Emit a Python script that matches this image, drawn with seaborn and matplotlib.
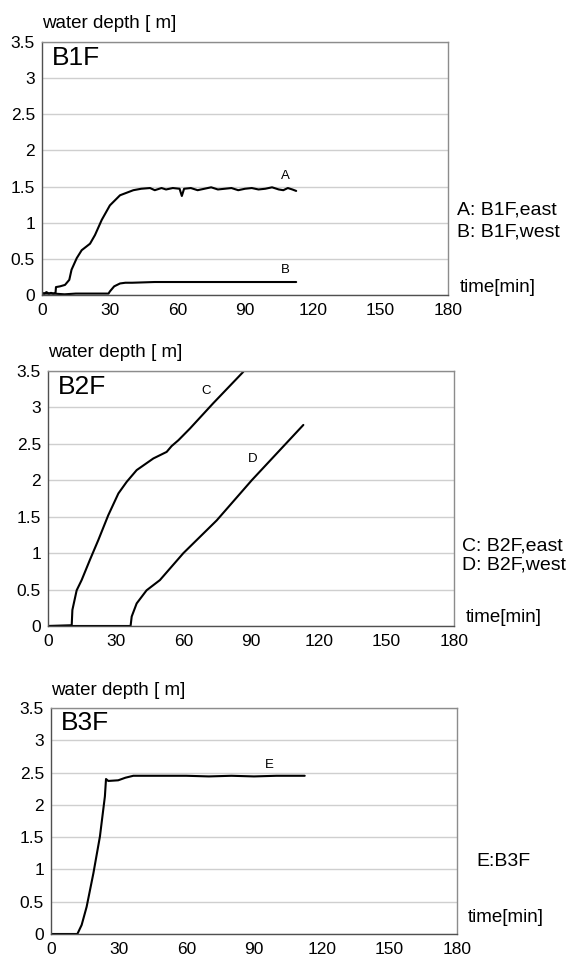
import numpy as np
import pandas as pd
import matplotlib
matplotlib.use("Agg")
import matplotlib.pyplot as plt
import seaborn as sns

# ---- data (time in min, depth in m) ----
a_time = [0, 1, 2, 3, 4, 5, 6.0, 6.2, 8, 10.2, 12.1, 13.1, 15.4, 17.6, 21.3, 23.5, 26.5,
          30.1, 34.6, 40.5, 44, 47.9, 50, 53, 55, 58, 61, 62, 63, 66, 69, 72,
          75, 78, 81, 84, 87, 90, 93, 96, 99, 102, 105, 107, 109, 111, 112.7]
a_depth = [0.03, 0.02, 0.04, 0.02, 0.03, 0.02, 0.03, 0.11, 0.12, 0.14, 0.21, 0.35, 0.51,
           0.62, 0.71, 0.83, 1.04, 1.24, 1.38, 1.45, 1.47, 1.48, 1.45, 1.48,
           1.46, 1.48, 1.47, 1.37, 1.47, 1.48, 1.45, 1.47, 1.49, 1.46, 1.47, 1.48,
           1.45, 1.47, 1.48, 1.46, 1.47, 1.49, 1.46, 1.45, 1.48, 1.46, 1.44]

b_time = [0, 5, 10, 15, 20, 25, 29.5, 30.1, 32, 34.6, 37, 40, 50, 60, 70, 80, 90, 100, 112.7]
b_depth = [0.02, 0.02, 0.01, 0.02, 0.02, 0.02, 0.02, 0.05, 0.12, 0.16, 0.17, 0.17, 0.18,
           0.18, 0.18, 0.18, 0.18, 0.18, 0.18]

c_time = [0, 10.5, 10.8, 12.7, 14.9, 18.6, 22.3, 26.7, 31.2, 34.9, 39.3, 46.7, 52.6,
          54.8, 57.8, 62.9, 73.3, 86.6]
c_depth = [0.0, 0.01, 0.22, 0.49, 0.63, 0.91, 1.18, 1.52, 1.82, 1.98, 2.14, 2.30, 2.39,
           2.47, 2.55, 2.71, 3.06, 3.49]

d_time = [0, 36.6, 37.1, 39.3, 43.7, 49.6, 60, 74.8, 90.3, 113.2]
d_depth = [0.0, 0.0, 0.13, 0.31, 0.49, 0.63, 1.0, 1.45, 2.0, 2.76]

e_time = [0, 11.7, 13.6, 15.8, 18.8, 21.7, 23.9, 24.4, 25.4, 29.8, 33, 36.5, 50,
          60, 70, 80, 90, 100, 112.5]
e_depth = [0.0, 0.0, 0.14, 0.42, 0.94, 1.51, 2.13, 2.40, 2.37, 2.38, 2.42, 2.45, 2.45,
           2.45, 2.44, 2.45, 2.44, 2.45, 2.45]

x_ticks = [0, 30, 60, 90, 120, 150, 180]
y_ticks = [0, 0.5, 1, 1.5, 2, 2.5, 3, 3.5]
y_labels = ["0", "0.5", "1", "1.5", "2", "2.5", "3", "3.5"]

sns.set_theme(style="white")
plt.rcParams["font.family"] = ["Liberation Sans", "DejaVu Sans"]

fig = plt.figure(figsize=(5.69, 9.61), dpi=100)

panels = [
    dict(rect=[0.0738, 0.693, 0.7135, 0.2633], title="B1F",
         lines=[(a_time, a_depth, "A", 107.8, 1.56), (b_time, b_depth, "B", 107.8, 0.27)],
         legend=["A: B1F,east", "B: B1F,west"], leg_y=[1.18, 0.87], time_y=0.1,
         leg_x=184, time_x=185),
    dict(rect=[0.0844, 0.3486, 0.7135, 0.2653], title="B2F",
         lines=[(c_time, c_depth, "C", 69.9, 3.15), (d_time, d_depth, "D", 90.7, 2.21)],
         legend=["C: B2F,east", "D: B2F,west"], leg_y=[1.10, 0.84], time_y=0.11,
         leg_x=183.5, time_x=185),
    dict(rect=[0.0896, 0.0281, 0.7135, 0.2352], title="B3F",
         lines=[(e_time, e_depth, "E", 97, 2.53)],
         legend=["E:B3F"], leg_y=[1.115], time_y=0.25, leg_x=188.4, time_x=184.8),
]

for p in panels:
    ax = fig.add_axes(p["rect"])
    for t, d, lab, lx, ly in p["lines"]:
        df = pd.DataFrame({"time": t, "depth": d})
        sns.lineplot(data=df, x="time", y="depth", ax=ax, color="black",
                     linewidth=1.5, estimator=None, sort=False)
        ax.text(lx, ly, lab, fontsize=9.5, ha="center", va="bottom", color="black")
    ax.set_xlim(0, 180)
    ax.set_ylim(0, 3.5)
    ax.set_xticks(x_ticks)
    ax.set_yticks(y_ticks)
    ax.set_yticklabels(y_labels)
    ax.set_xlabel("")
    ax.set_ylabel("")
    ax.grid(axis="y", color="#cfcfcf", linewidth=1)
    ax.set_axisbelow(True)
    ax.tick_params(axis="x", direction="in", length=4, width=0.8, color="#aaaaaa",
                   labelsize=12.5, pad=6, labelcolor="black")
    ax.tick_params(axis="y", length=0, labelsize=12.5, pad=5, labelcolor="black")
    for side in ["top", "right"]:
        ax.spines[side].set_color("#8c8c8c")
        ax.spines[side].set_linewidth(1)
    for side in ["left", "bottom"]:
        ax.spines[side].set_color("#505050")
        ax.spines[side].set_linewidth(1)
    ax.text(0.025, 0.985, p["title"], transform=ax.transAxes, fontsize=19,
            ha="left", va="top", color="black")
    ax.text(0.0, 1.04, "water depth [ m]", transform=ax.transAxes, fontsize=13.5,
            ha="left", va="bottom", color="black")
    for txt, yy in zip(p["legend"], p["leg_y"]):
        ax.text(p["leg_x"], yy, txt, fontsize=14, ha="left", va="center",
                color="black", clip_on=False)
    ax.text(p["time_x"], p["time_y"], "time[min]", fontsize=13.5, ha="left",
            va="center", color="black", clip_on=False)

fig.savefig("out.png", dpi=100, facecolor="white")
